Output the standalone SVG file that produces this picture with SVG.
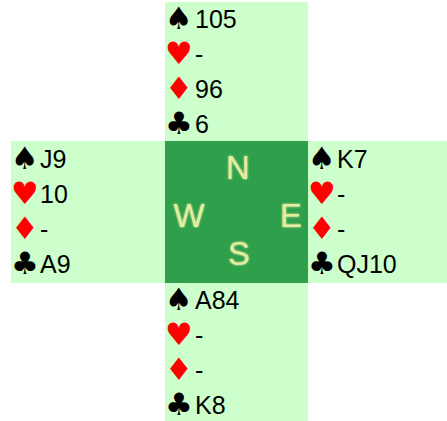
<svg xmlns="http://www.w3.org/2000/svg" width="447" height="421" viewBox="0 0 447 421">
<style>
.hand{fill:#ccffcc}
.t{font-family:"Liberation Sans",Arial,sans-serif;font-size:25px;fill:#000}
.s{font-family:"DejaVu Sans",sans-serif;font-size:31px}
.blk{fill:#000}
.red{fill:#ff0000}
.dir{font-family:"Liberation Sans",Arial,sans-serif;font-size:33px;fill:#e4eca0;text-anchor:middle}
</style>
<defs>
<filter id="glow" x="-30%" y="-30%" width="160%" height="160%">
<feGaussianBlur stdDeviation="0.8" result="b"/>
<feMerge><feMergeNode in="b"/><feMergeNode in="SourceGraphic"/></feMerge>
</filter>
</defs>
<rect width="447" height="421" fill="#ffffff"/>
<g id="north">
<rect class="hand" x="165" y="2" width="143" height="139"/>
<text class="s blk" x="165" y="29">♠</text><text class="t" x="195" y="28">105</text>
<text class="s red" x="165" y="64">♥</text><text class="t" x="195" y="63">-</text>
<text class="s red" x="165" y="99">♦</text><text class="t" x="195" y="98">96</text>
<text class="s blk" x="165" y="134">♣</text><text class="t" x="195" y="133">6</text>
</g>
<g id="west">
<rect class="hand" x="11" y="141" width="154" height="142"/>
<text class="s blk" x="11" y="169">♠</text><text class="t" x="40" y="168">J9</text>
<text class="s red" x="11" y="204">♥</text><text class="t" x="40" y="203">10</text>
<text class="s red" x="11" y="239">♦</text><text class="t" x="40" y="238">-</text>
<text class="s blk" x="11" y="274">♣</text><text class="t" x="40" y="273">A9</text>
</g>
<g id="east">
<rect class="hand" x="308" y="141" width="139" height="142"/>
<text class="s blk" x="308" y="169">♠</text><text class="t" x="337" y="168">K7</text>
<text class="s red" x="308" y="204">♥</text><text class="t" x="337" y="203">-</text>
<text class="s red" x="308" y="239">♦</text><text class="t" x="337" y="238">-</text>
<text class="s blk" x="308" y="274">♣</text><text class="t" x="337" y="273">QJ10</text>
</g>
<g id="south">
<rect class="hand" x="165" y="283" width="143" height="138"/>
<text class="s blk" x="165" y="310">♠</text><text class="t" x="195" y="309">A84</text>
<text class="s red" x="165" y="345">♥</text><text class="t" x="195" y="344">-</text>
<text class="s red" x="165" y="380">♦</text><text class="t" x="195" y="379">-</text>
<text class="s blk" x="165" y="415">♣</text><text class="t" x="195" y="414">K8</text>
</g>
<g id="compass">
<rect x="165" y="141" width="143" height="142" fill="#2e9f4b"/>
<g filter="url(#glow)">
<text class="dir" x="238" y="179">N</text>
<text class="dir" x="189" y="227">W</text>
<text class="dir" x="291" y="227">E</text>
<text class="dir" x="239" y="265">S</text>
</g>
</g>
<g id="connectors"></g>
</svg>
